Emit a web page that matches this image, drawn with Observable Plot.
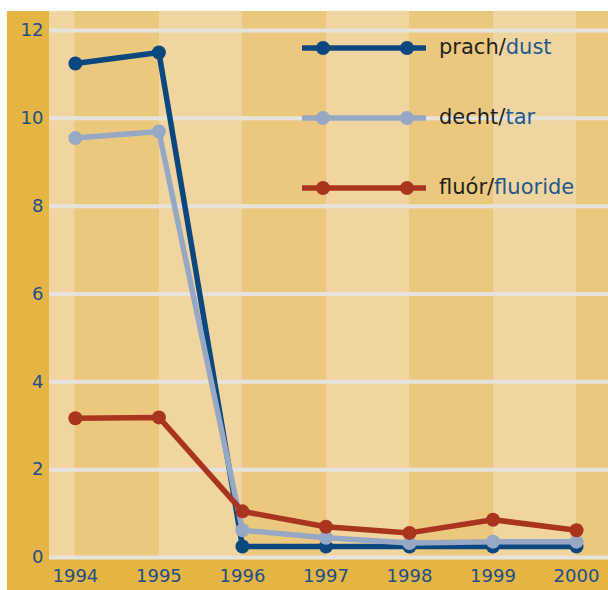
<!DOCTYPE html>
<html>
<head>
<meta charset="utf-8">
<script src="https://cdn.jsdelivr.net/npm/d3@7"></script>
<script src="https://cdn.jsdelivr.net/npm/@observablehq/plot@0.6"></script>
<style>
  html, body { margin: 0; padding: 0; background: #ffffff; }
  #wrap { position: relative; width: 608px; height: 590px; overflow: hidden; }
  #chart { position: absolute; left: 7px; top: 11px; }
  #legend { position: absolute; left: 0; top: 0; }
</style>
</head>
<body>
<div id="wrap">
  <div id="chart"></div>
  <svg id="legend" width="608" height="220"></svg>
</div>
<script>
// ---- data ----
const years = [1994, 1995, 1996, 1997, 1998, 1999, 2000];
const dust = [11.25, 11.5, 0.25, 0.25, 0.25, 0.25, 0.25];
const tar = [9.55, 9.7, 0.62, 0.45, 0.33, 0.36, 0.36];
const fluoride = [3.17, 3.19, 1.05, 0.70, 0.56, 0.86, 0.62];
const yTicks = [0, 2, 4, 6, 8, 10, 12];
const seriesCz = ["prach", "decht", "fluór"];
const seriesEn = ["dust", "tar", "fluoride"];
const seriesColors = ["#0c4880", "#97a8c5", "#a9351f"];

// ---- styling ----
const gold = "#e4b444";
const stripeLight = "#f1d5a0";
const stripeDark = "#ecc87e";
const gridColor = "#e6e3dd";
const tickColor = "#1d4f86";
const xMin = 1993.69, xMax = 2000.383;

const edges = [xMin, ...years, xMax];
const stripes = edges.slice(0, -1).map((a, i) => ({a, b: edges[i + 1], i}));
const light = stripes.filter(s => s.i % 2 === 0);
const dark = stripes.filter(s => s.i % 2 === 1);

const allSeries = [dust, tar, fluoride];
const rows = allSeries.flatMap((vals, s) => vals.map((v, i) => ({year: years[i], value: v, s})));

const seriesMarks = allSeries.flatMap((vals, s) => {
  const data = rows.filter(r => r.s === s);
  return [
    Plot.line(data, {x: "year", y: "value", stroke: seriesColors[s], strokeWidth: 5.5, strokeLinejoin: "round"}),
    Plot.dot(data, {x: "year", y: "value", r: 7, fill: seriesColors[s], stroke: "none"})
  ];
});

const chart = Plot.plot({
  width: 601,
  height: 579,
  marginLeft: 42,
  marginRight: 0,
  marginTop: 0,
  marginBottom: 31,
  style: {background: gold, fontFamily: "DejaVu Sans", overflow: "visible"},
  x: {domain: [xMin, xMax]},
  y: {domain: [-0.046, 12.433]},
  marks: [
    Plot.rect(light, {x1: "a", x2: "b", fill: stripeLight}),
    Plot.rect(dark, {x1: "a", x2: "b", fill: stripeDark}),
    Plot.ruleY(yTicks, {stroke: gridColor, strokeWidth: 4}),
    Plot.axisX(years, {tickSize: 0, tickPadding: 10, tickFormat: d => String(d), fontSize: 18, fill: tickColor, label: null}),
    Plot.axisY(yTicks, {tickSize: 0, tickPadding: 6, fontSize: 18, fill: tickColor, label: null}),
    ...seriesMarks
  ]
});
document.getElementById("chart").appendChild(chart);

// ---- legend ----
const leg = d3.select("#legend");
const rowY = [48, 118, 188];
seriesCz.forEach((cz, s) => {
  const y = rowY[s];
  leg.append("line").attr("x1", 302).attr("x2", 426).attr("y1", y).attr("y2", y)
    .attr("stroke", seriesColors[s]).attr("stroke-width", 5.5);
  [323, 407].forEach(cx => leg.append("circle").attr("cx", cx).attr("cy", y).attr("r", 7).attr("fill", seriesColors[s]));
  const t = leg.append("text").attr("x", 439).attr("y", y + 6)
    .attr("font-family", "DejaVu Sans").attr("font-size", 21);
  t.append("tspan").attr("fill", "#231f20").text(cz + "/");
  t.append("tspan").attr("fill", "#1d5a8e").text(seriesEn[s]);
});
</script>
</body>
</html>
